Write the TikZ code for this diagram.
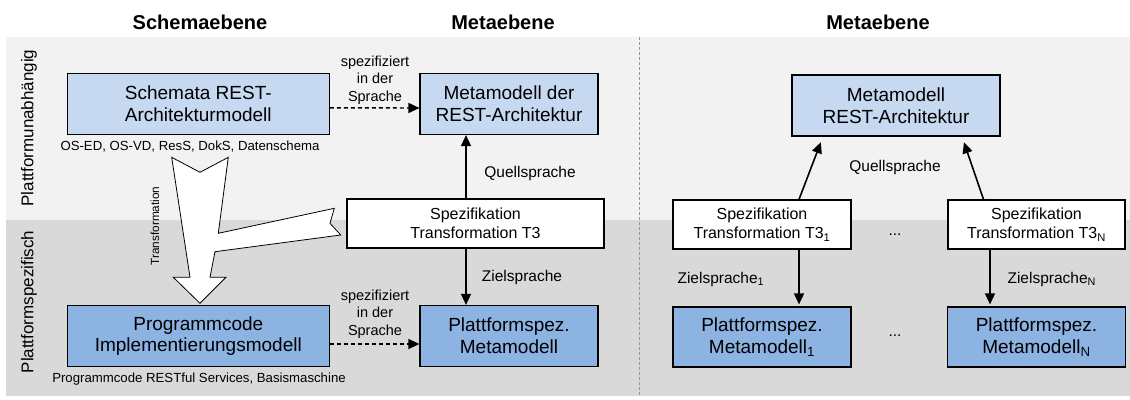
\documentclass[tikz,border=0pt]{standalone}
\usepackage{fontspec}
\setmainfont{Liberation Sans}
\usetikzlibrary{arrows.meta}
\definecolor{lightblue}{RGB}{198,217,241}
\definecolor{midblue}{RGB}{141,179,226}
\definecolor{bglight}{RGB}{242,242,242}
\definecolor{bgdark}{RGB}{217,217,217}
\definecolor{sepgray}{RGB}{150,150,150}

\begin{document}
\begin{tikzpicture}[x=1pt,y=-1pt,
  box/.style={draw=black,line width=1.2pt,align=center,inner sep=0pt,font=\fontsize{19}{21.7}\selectfont},
  widebox/.style={box,minimum width=262pt,minimum height=61pt},
  metabox/.style={box,minimum width=178pt,minimum height=61pt},
  specbox/.style={draw=black,line width=1.2pt,align=center,inner sep=0pt,fill=white,minimum height=49pt,font=\fontsize{16}{19}\selectfont},
  hdr/.style={font=\fontsize{20}{24}\selectfont\bfseries},
  sidelbl/.style={rotate=90,font=\fontsize{17}{20}\selectfont},
  lbl/.style={font=\fontsize{15.5}{18}\selectfont},
  smalllbl/.style={align=center,font=\fontsize{14.5}{17.5}\selectfont},
  caption/.style={font=\fontsize{13.2}{16}\selectfont},
  arr/.style={-{Triangle[length=11pt,width=10pt]},line width=1.6pt},
  dasharr/.style={-{Triangle[length=11pt,width=10pt]},line width=1.4pt,dash pattern=on 4pt off 3pt}]
\useasboundingbox (0,0) rectangle (1130,399);

% background bands
\fill[bglight] (6,37) rectangle (1130,220);
\fill[bgdark] (6,220) rectangle (1130,396);
\draw[sepgray,line width=1pt,dash pattern=on 3pt off 2pt] (639,37) -- (639,396);

% headings
\node[hdr] (hschema) at (200,22) {Schemaebene};
\node[hdr] (hmeta) at (503,22) {Metaebene};
\node[hdr] (hmetar) at (878,22) {Metaebene};
\node[sidelbl] (lunab) at (29,128) {Plattformunabhängig};
\node[sidelbl] (lspez) at (29,302) {Plattformspezifisch};

% transformation arrow
\draw[line width=0.8pt,fill=white,line join=miter]
  (171.7,157.3) -- (200,172.3) -- (228.3,157.3) -- (218.3,233.3)
  -- (334.3,208.3) -- (330,223.3) -- (340.7,235) -- (215,251.7)
  -- (210,277.3) -- (226,277.3) -- (200,303.3) -- (173.3,277.3)
  -- (190,277.3) -- cycle;
\node[rotate=90,font=\fontsize{11.8}{14}\selectfont] (ltrans) at (155,226) {Transformation};

% left part
\node[widebox,fill=lightblue] (schema) at (198.3,103.8) {Schemata REST-\\Architekturmodell};
\node[caption] (cschema) at (190,147) {OS-ED, OS-VD, ResS, DokS, Datenschema};
\node[widebox,fill=midblue] (prog) at (198.3,336) {Programmcode\\Implementierungsmodell};
\node[caption] (cprog) at (199,379) {Programmcode RESTful Services, Basismaschine};

\node[metabox,fill=lightblue] (meta) at (509,104) {Metamodell der\\REST-Architektur};
\node[specbox,minimum width=257pt] (spec) at (475.5,223.5) {Spezifikation\\Transformation T3};
\node[metabox,fill=midblue] (pmeta) at (509,336) {Plattformspez.\\Metamodell};

\draw[dasharr] ([yshift=-4pt]schema.east) -- ([yshift=-4pt]meta.west);
\node[smalllbl] (lspr1) at (375,80) {spezifiziert\\in der\\Sprache};
\draw[dasharr] ([yshift=-8pt]prog.east) -- ([yshift=-8pt]pmeta.west);
\node[smalllbl] (lspr2) at (375,314) {spezifiziert\\in der\\Sprache};

\coordinate (qx) at (466,0);
\draw[arr] (spec.north -| qx) -- (meta.south -| qx);
\draw[arr] (spec.south -| qx) -- (pmeta.north -| qx);
\node[lbl] (lquell) at (530,173) {Quellsprache};
\node[lbl] (lziel) at (522,277) {Zielsprache};

% right part
\node[metabox,fill=lightblue,minimum width=208pt] (rmeta) at (896,105.5) {Metamodell\\REST-Architektur};
\node[specbox,minimum width=178pt] (spec1) at (762,224.5) {Spezifikation\\Transformation T3\textsubscript{1}};
\node[specbox,minimum width=177pt] (specn) at (1036.5,224.5) {Spezifikation\\Transformation T3\textsubscript{N}};
\node[metabox,fill=midblue,minimum height=60pt] (pmeta1) at (762,337) {Plattformspez.\\Metamodell\textsubscript{1}};
\node[metabox,fill=midblue,minimum height=60pt] (pmetan) at (1036.5,337) {Plattformspez.\\Metamodell\textsubscript{N}};
\node[lbl] (dots1) at (895,235) {...};
\node[lbl] (dots2) at (895,336) {...};

\draw[arr,shorten >=6pt] ([xshift=37pt]spec1.north) -- ([xshift=-73pt]rmeta.south);
\draw[arr,shorten >=6pt] ([xshift=-53pt]specn.north) -- ([xshift=66pt]rmeta.south);
\node[lbl] (lquellr) at (895,167) {Quellsprache};
\draw[arr,shorten >=2pt] ([xshift=37pt]spec1.south) -- ([xshift=37pt]pmeta1.north);
\draw[arr,shorten >=2pt] ([xshift=-46.5pt]specn.south) -- ([xshift=-46.5pt]pmetan.north);
\node[lbl,anchor=west] (lziel1) at (674,279) {Zielsprache\textsubscript{1}};
\node[lbl,anchor=west] (lzieln) at (1004,279) {Zielsprache\textsubscript{N}};
\end{tikzpicture}
\end{document}
